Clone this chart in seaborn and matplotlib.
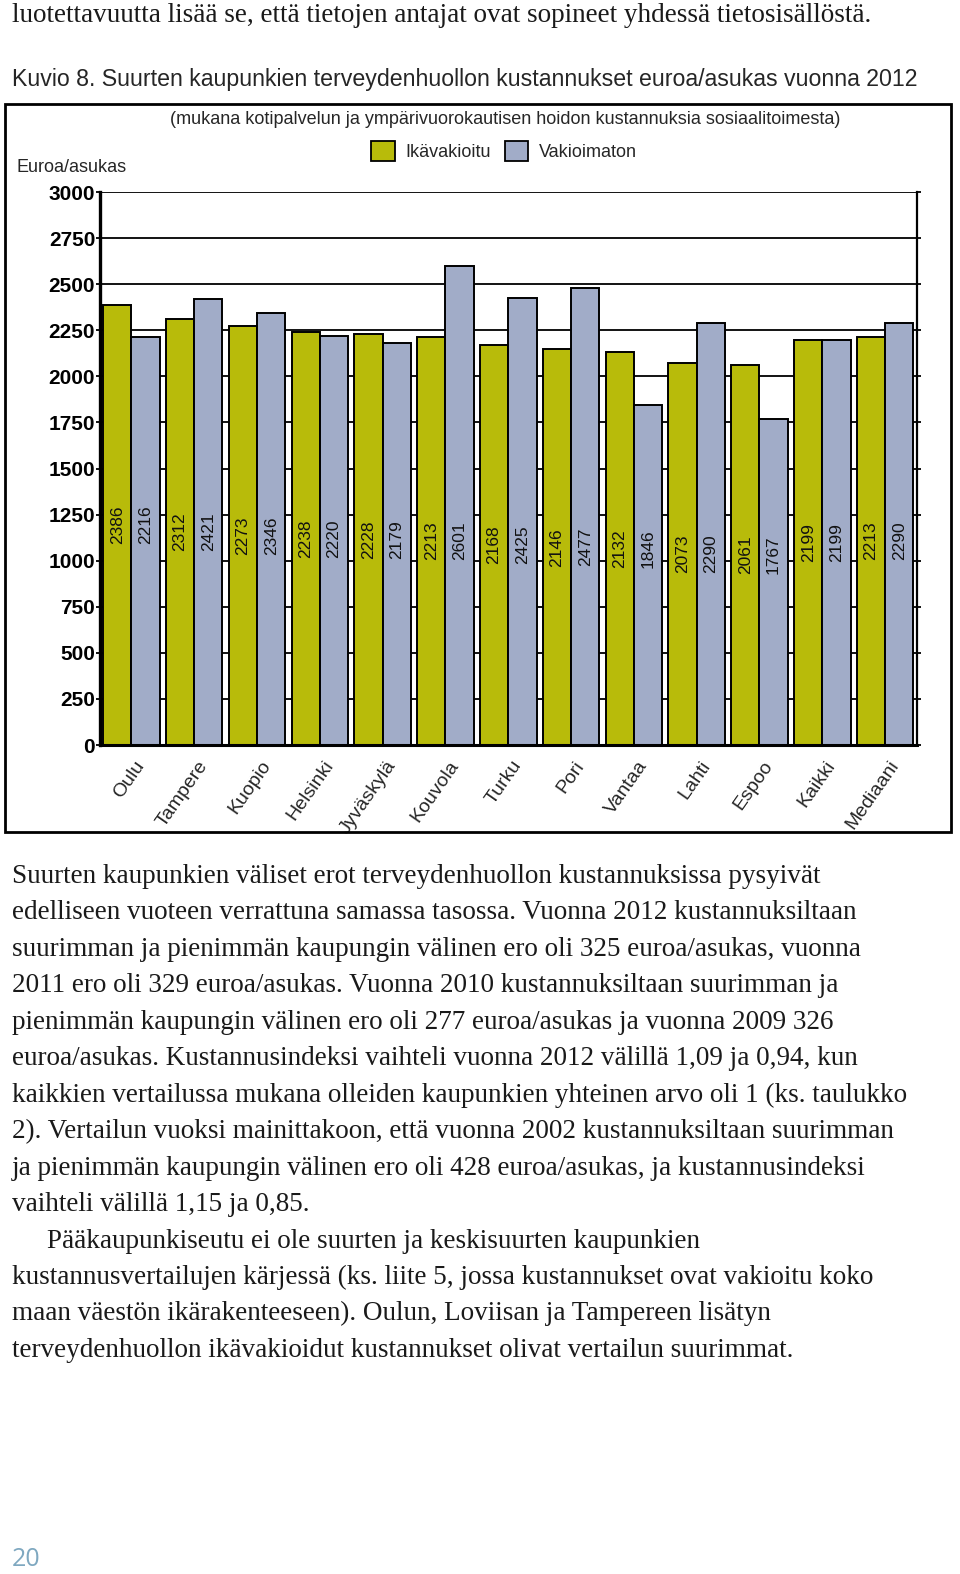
import numpy as np
import pandas as pd
import matplotlib
matplotlib.use("Agg")
import matplotlib.pyplot as plt
from matplotlib.patches import Patch, Rectangle
import seaborn as sns

# ---------------- data ----------------
cities = ["Oulu", "Tampere", "Kuopio", "Helsinki", "Jyväskylä", "Kouvola", "Turku",
          "Pori", "Vantaa", "Lahti", "Espoo", "Kaikki", "Mediaani"]
ikavakioitu = [2386, 2312, 2273, 2238, 2228, 2213, 2168, 2146, 2132, 2073, 2061, 2199, 2213]
vakioimaton = [2216, 2421, 2346, 2220, 2179, 2601, 2425, 2477, 1846, 2290, 1767, 2199, 2290]
series_names = ["Ikävakioitu", "Vakioimaton"]
y_ticks = list(range(0, 3001, 250))

title = "Kuvio 8. Suurten kaupunkien terveydenhuollon kustannukset euroa/asukas vuonna 2012"
subtitle = "(mukana kotipalvelun ja ympärivuorokautisen hoidon kustannuksia sosiaalitoimesta)"
y_label = "Euroa/asukas"
top_line = "luotettavuutta lisää se, että tietojen antajat ovat sopineet yhdessä tietosisällöstä."
body_lines = [
    "Suurten kaupunkien väliset erot terveydenhuollon kustannuksissa pysyivät",
    "edelliseen vuoteen verrattuna samassa tasossa. Vuonna 2012 kustannuksiltaan",
    "suurimman ja pienimmän kaupungin välinen ero oli 325 euroa/asukas, vuonna",
    "2011 ero oli 329 euroa/asukas. Vuonna 2010 kustannuksiltaan suurimman ja",
    "pienimmän kaupungin välinen ero oli 277 euroa/asukas ja vuonna 2009 326",
    "euroa/asukas. Kustannusindeksi vaihteli vuonna 2012 välillä 1,09 ja 0,94, kun",
    "kaikkien vertailussa mukana olleiden kaupunkien yhteinen arvo oli 1 (ks. taulukko",
    "2). Vertailun vuoksi mainittakoon, että vuonna 2002 kustannuksiltaan suurimman",
    "ja pienimmän kaupungin välinen ero oli 428 euroa/asukas, ja kustannusindeksi",
    "vaihteli välillä 1,15 ja 0,85.",
    "Pääkaupunkiseutu ei ole suurten ja keskisuurten kaupunkien",
    "kustannusvertailujen kärjessä (ks. liite 5, jossa kustannukset ovat vakioitu koko",
    "maan väestön ikärakenteeseen). Oulun, Loviisan ja Tampereen lisätyn",
    "terveydenhuollon ikävakioidut kustannukset olivat vertailun suurimmat.",
]
indented = [10]
page_number = "20"

# ---------------- style ----------------
sns.set_theme(style="white")
plt.rcParams["font.family"] = ["Liberation Sans", "DejaVu Sans"]
GREEN = "#b8bb0a"
BLUE = "#a1acc8"
SERIF = ["Liberation Serif", "DejaVu Serif"]

W, H = 960, 1574
fig = plt.figure(figsize=(W / 100, H / 100), dpi=100)

def fx(px):
    return px / W

def fy(py):
    return 1 - py / H

df = pd.DataFrame({
    "city": cities * 2,
    "value": ikavakioitu + vakioimaton,
    "series": [series_names[0]] * len(cities) + [series_names[1]] * len(cities),
})

ax = fig.add_axes([fx(100), fy(745), fx(916.5) - fx(100), fy(192) - fy(745)])
sns.barplot(data=df, x="city", y="value", hue="series", order=cities,
            hue_order=series_names, palette=[GREEN, BLUE], saturation=1,
            width=0.9, gap=0, edgecolor="black", linewidth=1.4, ax=ax,
            legend=False, errorbar=None)

ax.set_ylim(0, 3000)
ax.set_xlim(-0.5, len(cities) - 0.5)
ax.set_yticks(y_ticks)
ax.set_yticklabels([str(t) for t in y_ticks], fontsize=15, fontweight="bold")
ax.set_xlabel("")
ax.set_ylabel("")
ax.yaxis.grid(True, color="black", linewidth=1.3)
ax.xaxis.grid(False)
ax.set_axisbelow(True)
for s in ["left", "right", "bottom"]:
    ax.spines[s].set_visible(True)
    ax.spines[s].set_color("black")
ax.spines["top"].set_visible(False)
ax.spines["left"].set_linewidth(2.4)
ax.spines["right"].set_linewidth(1.6)
ax.spines["bottom"].set_linewidth(2.2)
ax.tick_params(axis="y", which="both", left=True, right=True, direction="out",
               length=3, width=1.3, pad=0.5, colors="black", labelright=False)
ax.tick_params(axis="x", bottom=False, pad=3)
ax.set_xticks(range(len(cities)))
ax.set_xticklabels(cities, rotation=55, ha="right", rotation_mode="anchor",
                   fontsize=14)
for lab in ax.get_xticklabels():
    lab.set_transform(lab.get_transform() + matplotlib.transforms.ScaledTranslation(3 / 100, 0, fig.dpi_scale_trans))

# value labels: both bars of a city centred at half of the age-adjusted bar
for container, vals in zip(ax.containers, [ikavakioitu, vakioimaton]):
    for bar, v, g in zip(container, vals, ikavakioitu):
        ax.text(bar.get_x() + bar.get_width() / 2, g / 2, str(v), rotation=90,
                ha="center", va="center", fontsize=12.5, color="#111111")

# frame around the chart
fig.patches.append(Rectangle((fx(5), fy(832)), fx(951) - fx(5), fy(104) - fy(832),
                             transform=fig.transFigure, fill=False,
                             edgecolor="black", linewidth=2))

# headings
fig.text(fx(12), fy(86), title, fontsize=16.65, va="baseline", ha="left")
fig.text(fx(505), fy(124), subtitle, fontsize=13.0, va="baseline", ha="center")
fig.text(fx(17), fy(172), y_label, fontsize=13.0, va="baseline", ha="left")

handles = [Patch(facecolor=GREEN, edgecolor="black", linewidth=1.3),
           Patch(facecolor=BLUE, edgecolor="black", linewidth=1.3)]
fig.legend(handles, series_names, loc="center", bbox_to_anchor=(fx(504), fy(151)),
           ncol=2, frameon=False, fontsize=13.0, handlelength=1.3, handleheight=1.3,
           handletextpad=0.6, columnspacing=0.75, borderpad=0, borderaxespad=0)

# body text
fig.text(fx(12), fy(22), top_line, fontsize=19.5, family=SERIF, va="baseline", color="#1a1a1a")
base = 883
step = 36.45
for i, line in enumerate(body_lines):
    x0 = 47 if i in indented else 12
    fig.text(fx(x0), fy(base + i * step), line, fontsize=19.5, family=SERIF,
             va="baseline", ha="left", color="#1a1a1a")

fig.text(fx(12), fy(1566), page_number, fontsize=18, family=["Open Sans", "DejaVu Sans"],
         va="baseline", color="#7fa8c0")

fig.savefig("out.png", dpi=100, facecolor="white")
